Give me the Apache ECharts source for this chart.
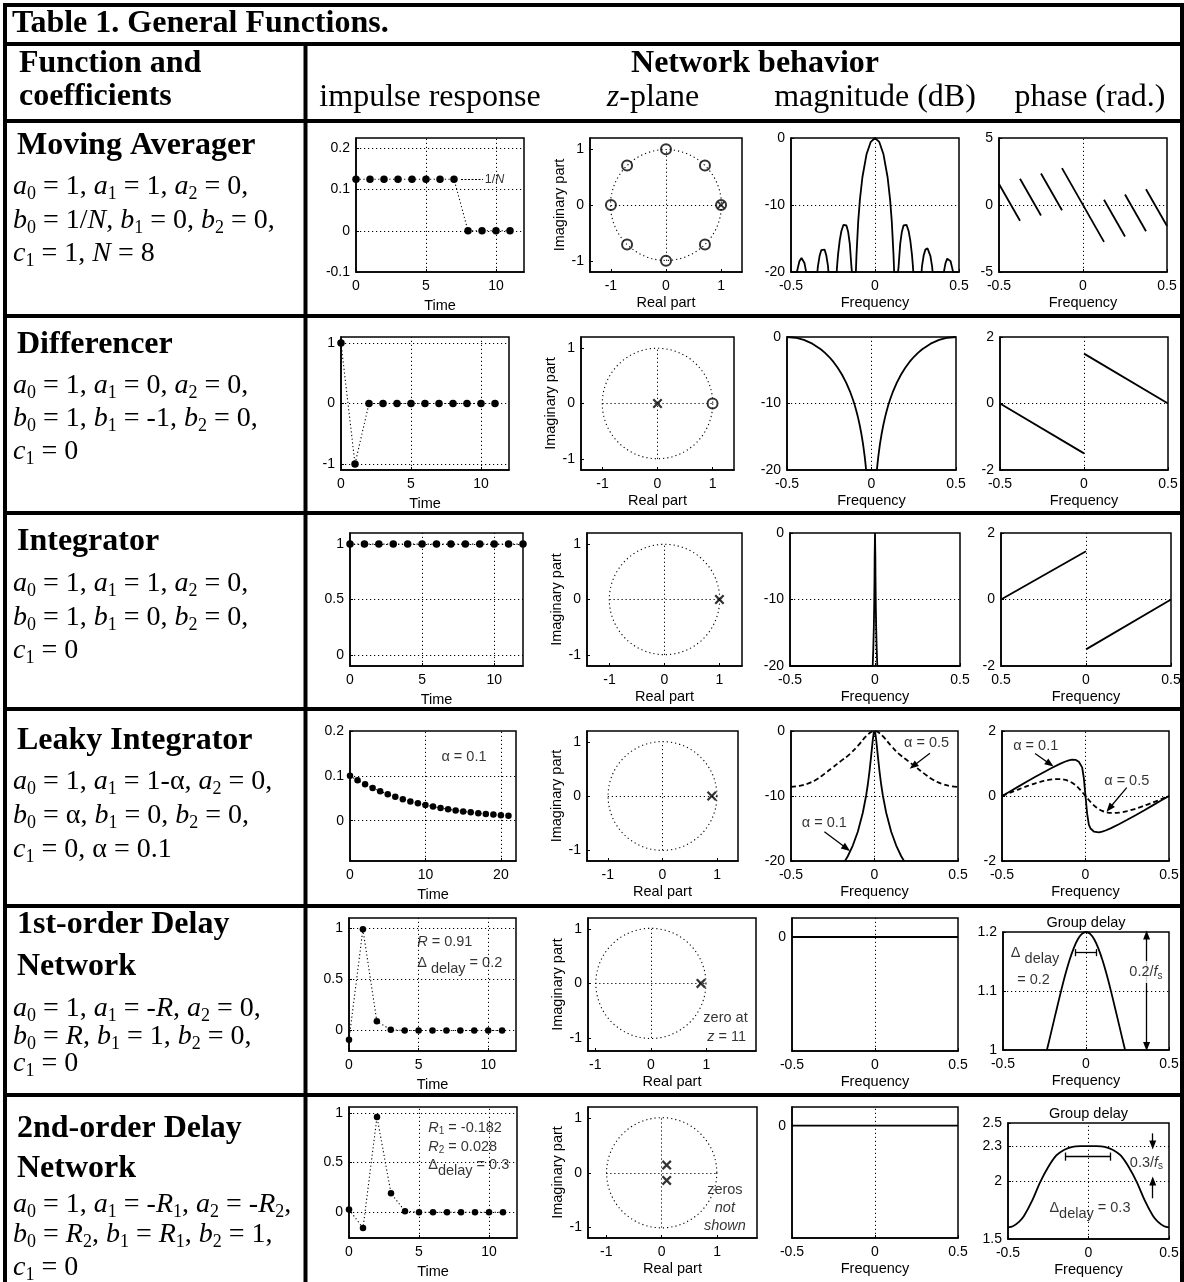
<!DOCTYPE html>
<html><head><meta charset="utf-8">
<script src="https://cdn.jsdelivr.net/npm/echarts@6/dist/echarts.min.js"></script>
<style>html,body{margin:0;padding:0;background:#fff}#c{width:1184px;height:1282px}</style>
</head><body><div id="c"></div>
<script>
// ================= DATA =================
// Row 1: Moving averager
const maTime=[0,1,2,3,4,5,6,7,8,9,10,11];
const maImpulse=[0.125,0.125,0.125,0.125,0.125,0.125,0.125,0.125,0,0,0,0];
const maZeroRe=[0.707,0,-0.707,-1,-0.707,0,0.707,1];
const maZeroIm=[0.707,1,0.707,0,-0.707,-1,-0.707,0];
const maPoleRe=[1];
const maPoleIm=[0];
const maMagFreq=[-0.5,-0.465,-0.46,-0.45,-0.4375,-0.43,-0.42,-0.41,-0.343,-0.34,-0.33,-0.32,-0.3125,-0.3,-0.29,-0.28,-0.277,-0.228,-0.225,-0.22,-0.21,-0.2,-0.1875,-0.17,-0.16,-0.15,-0.14,-0.137,-0.114,-0.11,-0.1,-0.09,-0.075,-0.05,-0.025,0,
 0.025,0.05,0.075,0.09,0.1,0.11,0.114,0.137,0.14,0.15,0.16,0.17,0.1875,0.2,0.21,0.22,0.225,0.228,0.277,0.28,0.29,0.3,0.3125,0.32,0.33,0.34,0.343,0.41,0.42,0.43,0.4375,0.45,0.46,0.465,0.5];
const maMagDb=[-20,-20,-19.46,-18.39,-17.9,-18.0,-18.65,-19.97,-20,-19.2,-17.63,-16.75,-16.46,-16.66,-17.5,-19.1,-20,-20,-18.9,-17.4,-15.28,-13.88,-12.96,-13.06,-13.98,-15.8,-19.3,-20,-20,-17.34,-12.48,-9.24,-5.86,-2.38,-0.57,0,
 -0.57,-2.38,-5.86,-9.24,-12.48,-17.34,-20,-20,-19.3,-15.8,-13.98,-13.06,-12.96,-13.88,-15.28,-17.4,-18.9,-20,-20,-19.1,-17.5,-16.66,-16.46,-16.75,-17.63,-19.2,-20,-19.97,-18.65,-18.0,-17.9,-18.39,-19.46,-20,-20];
const maPhaseSeg=[[-0.5,1.571,-0.375,-1.178],[-0.375,1.963,-0.25,-0.785],[-0.25,2.356,-0.125,-0.393],[-0.125,2.749,0.125,-2.749],[0.125,0.393,0.25,-2.356],[0.25,0.785,0.375,-1.963],[0.375,1.178,0.5,-1.571]];

// Row 2: Differencer
const dfTime=[0,1,2,3,4,5,6,7,8,9,10,11];
const dfImpulse=[1,-1,0,0,0,0,0,0,0,0,0,0];
const dfZeroRe=[1], dfZeroIm=[0];
const dfPoleRe=[0], dfPoleIm=[0];
const dfMagFreq=[-0.5,-0.45,-0.4,-0.35,-0.3,-0.275,-0.25,-0.225,-0.2,-0.175,-0.15,-0.125,-0.11,-0.1,-0.09,-0.08,-0.07,-0.06,-0.05,-0.04,-0.035,-0.032,0,
 0.032,0.035,0.04,0.05,0.06,0.07,0.08,0.09,0.1,0.11,0.125,0.15,0.175,0.2,0.225,0.25,0.275,0.3,0.35,0.4,0.45,0.5];
const dfMagDb=[0,-0.11,-0.44,-1.0,-1.84,-2.38,-3.01,-3.75,-4.62,-5.64,-6.86,-8.34,-9.4,-10.2,-11.09,-12.09,-13.23,-14.55,-16.11,-18.04,-19.2,-20,-20,
 -20,-19.2,-18.04,-16.11,-14.55,-13.23,-12.09,-11.09,-10.2,-9.4,-8.34,-6.86,-5.64,-4.62,-3.75,-3.01,-2.38,-1.84,-1.0,-0.44,-0.11,0];
const dfPhaseSeg=[[-0.5,0,0,-1.5],[0,1.5,0.5,0]];

// Row 3: Integrator
const inTime=[0,1,2,3,4,5,6,7,8,9,10,11,12];
const inImpulse=[1,1,1,1,1,1,1,1,1,1,1,1,1];
const inPoleRe=[1], inPoleIm=[0];
const inMagFreq=[-0.5,-0.0135,-0.01,-0.007,-0.005,-0.003,-0.002,0,0.002,0.003,0.005,0.007,0.01,0.0135,0.5];
const inMagDb=[-20,-20,-17.4,-14.3,-11.4,-6.9,-3.4,0,-3.4,-6.9,-11.4,-14.3,-17.4,-20,-20];
const inPhaseSeg=[[-0.5,0,0,1.45],[0,-1.5,0.5,0]];

// Row 4: Leaky integrator
const liTime=[0,1,2,3,4,5,6,7,8,9,10,11,12,13,14,15,16,17,18,19,20,21];
const liImpulse=[0.1,0.09,0.081,0.0729,0.0656,0.059,0.0531,0.0478,0.043,0.0387,0.0349,0.0314,0.0282,0.0254,0.0229,0.0206,0.0185,0.0167,0.015,0.0135,0.0122,0.0109];
const liPoleRe=[0.9], liPoleIm=[0];
const liMag01Freq=[-0.177,-0.16,-0.13,-0.1,-0.07,-0.05,-0.04,-0.03,-0.02,-0.015,-0.01,-0.005,0,0.005,0.01,0.015,0.02,0.03,0.04,0.05,0.07,0.1,0.13,0.16,0.177];
const liMag01Db=[-20,-19.27,-17.62,-15.49,-12.58,-9.92,-8.23,-6.22,-3.84,-2.55,-1.32,-0.37,0,-0.37,-1.32,-2.55,-3.84,-6.22,-8.23,-9.92,-12.58,-15.49,-17.62,-19.27,-20];
const liMag05Freq=[-0.5,-0.45,-0.4,-0.35,-0.3,-0.25,-0.2,-0.15,-0.1,-0.05,-0.02,0,0.02,0.05,0.1,0.15,0.2,0.25,0.3,0.35,0.4,0.45,0.5];
const liMag05Db=[-8.6,-8.45,-8.1,-7.5,-6.6,-5.6,-4.6,-3.6,-2.3,-0.8,-0.15,0,-0.15,-0.8,-2.3,-3.6,-4.6,-5.6,-6.6,-7.5,-8.1,-8.45,-8.6];
const liPhFreq=[-0.5,-0.45,-0.4,-0.35,-0.3,-0.25,-0.2,-0.15,-0.12,-0.1,-0.08,-0.06,-0.05,-0.04,-0.03,-0.02,-0.01,0,0.01,0.02,0.03,0.04,0.05,0.06,0.08,0.1,0.12,0.15,0.2,0.25,0.3,0.35,0.4,0.45,0.5];
const liPh01=[0,0.149,0.297,0.445,0.59,0.733,0.87,0.997,1.062,1.096,1.117,1.113,1.093,1.052,1.0,0.88,0.55,0,-0.55,-0.88,-1.0,-1.052,-1.093,-1.113,-1.117,-1.096,-1.062,-0.997,-0.87,-0.733,-0.59,-0.445,-0.297,-0.149,0];
const liPh05=[0,0.104,0.206,0.303,0.391,0.464,0.512,0.52,0.494,0.458,0.406,0.331,0.287,0.237,0.182,0.124,0.063,0,-0.063,-0.124,-0.182,-0.237,-0.287,-0.331,-0.406,-0.458,-0.494,-0.52,-0.512,-0.464,-0.391,-0.303,-0.206,-0.104,0];

// Row 5: 1st-order delay network
const d1Time=[0,1,2,3,4,5,6,7,8,9,10,11];
const d1Impulse=[-0.09,0.99,0.09,0.008,0,0,0,0,0,0,0,0];
const d1PoleRe=[0.9], d1PoleIm=[0];
const d1MagFreq=[-0.5,0.5], d1MagDb=[0,0];
const d1GdFreq=[-0.2355,-0.22,-0.2,-0.175,-0.15,-0.125,-0.1,-0.075,-0.05,-0.025,0,0.025,0.05,0.075,0.1,0.125,0.15,0.175,0.2,0.22,0.2355];
const d1Gd=[1.0,1.018,1.0417,1.0713,1.1002,1.1274,1.1516,1.1719,1.1872,1.1968,1.2,1.1968,1.1872,1.1719,1.1516,1.1274,1.1002,1.0713,1.0417,1.018,1.0];

// Row 6: 2nd-order delay network
const d2Time=[0,1,2,3,4,5,6,7,8,9,10,11];
const d2Impulse=[0.028,-0.16,0.96,0.19,0.01,0,0,0,0,0,0,0];
const d2PoleRe=[0.09,0.09], d2PoleIm=[0.14,-0.14];
const d2MagFreq=[-0.5,0.5], d2MagDb=[0,0];
const d2GdFreq=[-0.5,-0.47,-0.43,-0.4,-0.35,-0.3,-0.25,-0.2,-0.15,-0.1,-0.05,0,0.05,0.1,0.15,0.2,0.25,0.3,0.35,0.4,0.43,0.47,0.5];
const d2Gd=[1.6,1.61,1.65,1.7,1.83,1.99,2.12,2.22,2.27,2.295,2.3,2.3,2.3,2.295,2.27,2.22,2.12,1.99,1.83,1.7,1.65,1.61,1.6];

// Tick values
const tkTime5=[0,5,10], tkTime10=[0,10,20];
const tkImp1=[-0.1,0,0.1,0.2], tkImp2=[-1,0,1], tkImp3=[0,0.5,1], tkImp4=[0,0.1,0.2];
const tkUnit=[-1,0,1];
const tkFreq=[-0.5,0,0.5];
const tkMag=[-20,-10,0], tkMag0=[0];
const tkPh5=[-5,0,5], tkPh2=[-2,0,2];
const tkGd1=[1,1.1,1.2], tkGd2=[1.5,2,2.3,2.5];

// ================= LAYOUT / STYLE =================
const SANS='Liberation Sans, Arial, Helvetica, sans-serif';
const SERIF='Liberation Serif, Times New Roman, serif';
const ZPX=[[-1,0,1,0],[0,-1,0,1]];
const CH=[
 {box:[356,138,524,272],xr:[0,12],yr:[-0.1,0.225],xt:tkTime5,yt:tkImp1,gx:[5,10],gy:[0,0.1,0.2],xn:'Time',xg:26},
 {box:[590,138,742,272],xr:[-1.38,1.38],yr:[-1.2,1.2],xt:tkUnit,yt:tkUnit,seg:ZPX,xn:'Real part',xg:23,yn:'Imaginary part',yg:20},
 {box:[791,138,959,272],xr:[-0.5,0.5],yr:[-20,0],xt:tkFreq,yt:tkMag,gx:[0],gy:[-10],xn:'Frequency',xg:23},
 {box:[999,138,1167,272],xr:[-0.5,0.5],yr:[-5,5],xt:tkFreq,yt:tkPh5,gx:[0],gy:[0],xn:'Frequency',xg:23},

 {box:[341,337,509,470],xr:[0,12],yr:[-1.1,1.1],xt:tkTime5,yt:tkImp2,gx:[5,10],gy:[-1,0,1],xn:'Time',xg:26},
 {box:[581,337,734,470],xr:[-1.39,1.39],yr:[-1.2,1.2],xt:tkUnit,yt:tkUnit,seg:ZPX,xn:'Real part',xg:23,yn:'Imaginary part',yg:23},
 {box:[787,337,956,470],xr:[-0.5,0.5],yr:[-20,0],xt:tkFreq,yt:tkMag,gx:[0],gy:[-10],xn:'Frequency',xg:23},
 {box:[1000,337,1168,470],xr:[-0.5,0.5],yr:[-2,2],xt:tkFreq,yt:tkPh2,gx:[0],gy:[0],xn:'Frequency',xg:23},

 {box:[350,533,523,666],xr:[0,12],yr:[-0.1,1.1],xt:tkTime5,yt:tkImp3,gx:[5,10],gy:[0,0.5,1],xn:'Time',xg:26},
 {box:[587,533,742,666],xr:[-1.41,1.41],yr:[-1.2,1.2],xt:tkUnit,yt:tkUnit,seg:ZPX,xn:'Real part',xg:23,yn:'Imaginary part',yg:23},
 {box:[790,533,960,666],xr:[-0.5,0.5],yr:[-20,0],xt:tkFreq,yt:tkMag,gx:[0],gy:[-10],xn:'Frequency',xg:23},
 {box:[1001,533,1171,666],xr:[-0.5,0.5],yr:[-2,2],xt:tkFreq,yt:tkPh2,gx:[0],gy:[0],xn:'Frequency',xg:23,absX:true},

 {box:[350,731,516,861],xr:[0,22],yr:[-0.09,0.2],xt:tkTime10,yt:tkImp4,gx:[10,20],gy:[0,0.1],xn:'Time',xg:26},
 {box:[587,731,738,861],xr:[-1.38,1.38],yr:[-1.2,1.2],xt:tkUnit,yt:tkUnit,seg:ZPX,xn:'Real part',xg:23,yn:'Imaginary part',yg:23},
 {box:[791,731,958,861],xr:[-0.5,0.5],yr:[-20,0],xt:tkFreq,yt:tkMag,gx:[0],gy:[-10],xn:'Frequency',xg:23},
 {box:[1002,731,1169,861],xr:[-0.5,0.5],yr:[-2,2],xt:tkFreq,yt:tkPh2,gx:[0],gy:[0],xn:'Frequency',xg:23},

 {box:[349,918,516,1051],xr:[0,12],yr:[-0.2,1.1],xt:tkTime5,yt:tkImp3,gx:[5,10],gy:[0,0.5,1],xn:'Time',xg:26},
 {box:[588,918,756,1051],xr:[-1.13,1.89],yr:[-1.24,1.2],xt:tkUnit,yt:tkUnit,seg:ZPX,xn:'Real part',xg:23,yn:'Imaginary part',yg:23},
 {box:[792,918,958,1051],xr:[-0.5,0.5],yr:[-6,1],xt:tkFreq,yt:tkMag0,gx:[0],gy:[],xn:'Frequency',xg:23},
 {box:[1003,932,1169,1050],xr:[-0.5,0.5],yr:[1,1.2],xt:tkFreq,yt:tkGd1,gx:[0],gy:[1.1],xn:'Frequency',xg:23,title:'Group delay'},

 {box:[349,1107,517,1238],xr:[0,12],yr:[-0.26,1.06],xt:tkTime5,yt:tkImp3,gx:[5,10],gy:[0,0.5,1],xn:'Time',xg:26},
 {box:[588,1107,757,1238],xr:[-1.33,1.72],yr:[-1.19,1.2],xt:tkUnit,yt:tkUnit,seg:ZPX,xn:'Real part',xg:23,yn:'Imaginary part',yg:23},
 {box:[792,1107,958,1238],xr:[-0.5,0.5],yr:[-6,1],xt:tkFreq,yt:tkMag0,gx:[0],gy:[],xn:'Frequency',xg:23},
 {box:[1008,1123,1169,1239],xr:[-0.5,0.5],yr:[1.5,2.5],xt:tkFreq,yt:tkGd2,gx:[0],gy:[2,2.3],xn:'Frequency',xg:23,title:'Group delay'}
];

// data series per chart
const SER=[
 {c:0,k:'imp',t:maTime,v:maImpulse},
 {c:1,k:'circle'},{c:1,k:'zero',re:maZeroRe,im:maZeroIm},{c:1,k:'pole',re:maPoleRe,im:maPoleIm,size:8},
 {c:2,k:'curve',f:maMagFreq,v:maMagDb},
 {c:3,k:'segs',s:maPhaseSeg},

 {c:4,k:'imp',t:dfTime,v:dfImpulse},
 {c:5,k:'circle'},{c:5,k:'zero',re:dfZeroRe,im:dfZeroIm},{c:5,k:'pole',re:dfPoleRe,im:dfPoleIm},
 {c:6,k:'curve',f:dfMagFreq,v:dfMagDb},
 {c:7,k:'segs',s:dfPhaseSeg},

 {c:8,k:'imp',t:inTime,v:inImpulse},
 {c:9,k:'circle'},{c:9,k:'pole',re:inPoleRe,im:inPoleIm},
 {c:10,k:'curve',f:inMagFreq,v:inMagDb},
 {c:11,k:'segs',s:inPhaseSeg},

 {c:12,k:'imp',t:liTime,v:liImpulse,size:6.5},
 {c:13,k:'circle'},{c:13,k:'pole',re:liPoleRe,im:liPoleIm},
 {c:14,k:'curve',f:liMag05Freq,v:liMag05Db,dash:true,smooth:0.4},
 {c:14,k:'curve',f:liMag01Freq,v:liMag01Db},
 {c:15,k:'curve',f:liPhFreq,v:liPh05,dash:true,smooth:0.3},
 {c:15,k:'curve',f:liPhFreq,v:liPh01},

 {c:16,k:'imp',t:d1Time,v:d1Impulse,size:6.5},
 {c:17,k:'circle'},{c:17,k:'pole',re:d1PoleRe,im:d1PoleIm},
 {c:18,k:'curve',f:d1MagFreq,v:d1MagDb},
 {c:19,k:'curve',f:d1GdFreq,v:d1Gd,smooth:0.3},

 {c:20,k:'imp',t:d2Time,v:d2Impulse,size:6.5},
 {c:21,k:'circle'},{c:21,k:'pole',re:d2PoleRe,im:d2PoleIm},
 {c:22,k:'curve',f:d2MagFreq,v:d2MagDb},
 {c:23,k:'curve',f:d2GdFreq,v:d2Gd,smooth:0.3}
];

// annotations: [chart, x, y, richText, align, whiteBg]
const ANN=[
 [0,9.2,0.125,'{t|1/}{ti|N}','left'],
 [12,15.1,0.143,'{n|α = 0.1}','center'],
 [14,0.312,-1.9,'{n|α = 0.5}','center'],
 [14,-0.3,-14.2,'{n|α = 0.1}','center'],
 [15,-0.298,1.55,'{n|α = 0.1}','center'],
 [15,0.247,0.462,'{n|α = 0.5}','center'],
 [16,4.9,0.865,'{i|R}{n| = 0.91}','left'],
 [16,4.9,0.66,'{D|Δ}{d| delay}{D| = 0.2}','left'],
 [17,1.74,-0.64,'{n|zero at}','right'],
 [17,1.71,-0.98,'{i|z}{n| = 11}','right'],
 [19,-0.307,1.164,'{D|Δ}{d| delay}','center'],
 [19,-0.316,1.119,'{n|= 0.2}','center'],
 [19,0.361,1.132,'{n|0.2/}{i|f}{s|s}','center',true],
 [20,5.66,0.851,'{i|R}{s|1}{n| = -0.182}','left'],
 [20,5.66,0.66,'{i|R}{s|2}{n| = 0.028}','left'],
 [20,5.66,0.475,'{D|Δ}{e|delay}{D| = 0.3}','left'],
 [21,1.14,-0.31,'{n|zeros}','center'],
 [21,1.14,-0.65,'{i|not}','center'],
 [21,1.14,-0.97,'{i|shown}','center'],
 [23,0.36,2.158,'{n|0.3/}{i|f}{s|s}','center'],
 [23,0.009,1.765,'{D|Δ}{e|delay}{D| = 0.3}','center']
];
// lines/arrows: [chart, x1,y1,x2,y2, kind]  kind: a=arrow at end, aa=both ends, l=line, d=dashed
const ARR=[
 [0,7.5,0.125,9.07,0.125,'d'],
 [14,0.332,-3.43,0.232,-5.38,'a'],
 [14,-0.3,-15.5,-0.168,-18.05,'a'],
 [15,-0.302,1.31,-0.213,0.985,'a'],
 [15,0.247,0.256,0.143,-0.378,'a'],
 [19,0.365,1.006,0.365,1.195,'aa'],
 [19,-0.066,1.165,0.064,1.165,'l'],
 [19,-0.066,1.159,-0.066,1.171,'l'],
 [19,0.064,1.159,0.064,1.171,'l'],
 [23,0.399,2.411,0.399,2.31,'a'],
 [23,0.399,1.851,0.399,2.0,'a'],
 [23,-0.145,2.21,0.135,2.21,'l'],
 [23,-0.145,2.175,-0.145,2.245,'l'],
 [23,0.135,2.175,0.135,2.245,'l']
];

// left-column & header texts: [x, baseline, rich, align]
const TXT=[
 [12,35,'{b|Table 1. General Functions.}'],
 [19,75,'{b|Function and}'],
 [19,108,'{b|coefficients}'],
 [755,75,'{b|Network behavior}','center'],
 [430,108,'{r|impulse response}','center'],
 [653,108,'{ri|z}{r|-plane}','center'],
 [875,108,'{r|magnitude (dB)}','center'],
 [1090,108,'{r|phase (rad.)}','center'],
 [17,157,'{b|Moving Averager}'],
 [13,196,'{i|a}{s|0}{n| = 1, }{i|a}{s|1}{n| = 1, }{i|a}{s|2}{n| = 0,}'],
 [13,230,'{i|b}{s|0}{n| = 1/}{i|N}{n|, }{i|b}{s|1}{n| = 0, }{i|b}{s|2}{n| = 0,}'],
 [13,263,'{i|c}{s|1}{n| = 1, }{i|N}{n| = 8}'],
 [17,356,'{b|Differencer}'],
 [13,395,'{i|a}{s|0}{n| = 1, }{i|a}{s|1}{n| = 0, }{i|a}{s|2}{n| = 0,}'],
 [13,428,'{i|b}{s|0}{n| = 1, }{i|b}{s|1}{n| = -1, }{i|b}{s|2}{n| = 0,}'],
 [13,461,'{i|c}{s|1}{n| = 0}'],
 [17,553,'{b|Integrator}'],
 [13,593,'{i|a}{s|0}{n| = 1, }{i|a}{s|1}{n| = 1, }{i|a}{s|2}{n| = 0,}'],
 [13,627,'{i|b}{s|0}{n| = 1, }{i|b}{s|1}{n| = 0, }{i|b}{s|2}{n| = 0,}'],
 [13,660,'{i|c}{s|1}{n| = 0}'],
 [17,752,'{b|Leaky Integrator}'],
 [13,791,'{i|a}{s|0}{n| = 1, }{i|a}{s|1}{n| = 1-α, }{i|a}{s|2}{n| = 0,}'],
 [13,825,'{i|b}{s|0}{n| = α, }{i|b}{s|1}{n| = 0, }{i|b}{s|2}{n| = 0,}'],
 [13,859,'{i|c}{s|1}{n| = 0, α = 0.1}'],
 [17,936,'{b|1st-order Delay}'],
 [17,978,'{b|Network}'],
 [13,1018,'{i|a}{s|0}{n| = 1, }{i|a}{s|1}{n| = -}{i|R}{n|, }{i|a}{s|2}{n| = 0,}'],
 [13,1046,'{i|b}{s|0}{n| = }{i|R}{n|, }{i|b}{s|1}{n| = 1, }{i|b}{s|2}{n| = 0,}'],
 [13,1073,'{i|c}{s|1}{n| = 0}'],
 [17,1140,'{b|2nd-order Delay}'],
 [17,1180,'{b|Network}'],
 [13,1214,'{i|a}{s|0}{n| = 1, }{i|a}{s|1}{n| = -}{i|R}{s|1}{n|, }{i|a}{s|2}{n| = -}{i|R}{s|2}{n|,}'],
 [13,1244,'{i|b}{s|0}{n| = }{i|R}{s|2}{n|, }{i|b}{s|1}{n| = }{i|R}{s|1}{n|, }{i|b}{s|2}{n| = 1,}'],
 [13,1277,'{i|c}{s|1}{n| = 0}']
];
// table rules: [x, y, w, h]
const RULES=[[3,3,1181,4],[3,3,4,1279],[1180,3,4,1279],[3,42,1181,4],[3,119,1181,4],[303.5,42,4,1240],
 [3,314,1181,4],[3,511,1181,4],[3,707,1181,4],[3,904,1181,4],[3,1093,1181,4]];

// ================= BUILD =================
function zip(a,b){return a.map((v,i)=>[v,b[i]]);}
const XPATH='path://M1.6,0L5,3.4L8.4,0L10,1.6L6.6,5L10,8.4L8.4,10L5,6.6L1.6,10L0,8.4L3.4,5L0,1.6Z';
const RICH_L={
 b:{fontFamily:SERIF,fontSize:32,fontWeight:'bold',lineHeight:40,fill:'#000'},
 r:{fontFamily:SERIF,fontSize:32,lineHeight:40,fill:'#000'},
 ri:{fontFamily:SERIF,fontSize:32,fontStyle:'italic',lineHeight:40,fill:'#000'},
 n:{fontFamily:SERIF,fontSize:28,lineHeight:34,fill:'#000'},
 i:{fontFamily:SERIF,fontSize:28,fontStyle:'italic',lineHeight:34,fill:'#000'},
 s:{fontFamily:SERIF,fontSize:18,lineHeight:20,verticalAlign:'bottom',fill:'#000'}
};
const RICH_A={
 n:{fontFamily:SANS,fontSize:14.5,color:'#000',lineHeight:18},
 i:{fontFamily:SANS,fontSize:14.5,fontStyle:'italic',color:'#000',lineHeight:18},
 t:{fontFamily:SANS,fontSize:12.5,color:'#000',lineHeight:16},
 ti:{fontFamily:SANS,fontSize:12.5,fontStyle:'italic',color:'#000',lineHeight:16},
 s:{fontFamily:SANS,fontSize:10,color:'#000',lineHeight:10,verticalAlign:'bottom'},
 D:{fontFamily:SANS,fontSize:14.5,color:'#000',lineHeight:26},
 d:{fontFamily:SANS,fontSize:14.5,color:'#000',lineHeight:14,verticalAlign:'bottom'},
 e:{fontFamily:SANS,fontSize:14.5,color:'#000',lineHeight:20,verticalAlign:'bottom'}
};
const fmt=v=>String(v);
const option={animation:false,backgroundColor:'#fff',textStyle:{fontFamily:SANS},grid:[],xAxis:[],yAxis:[],series:[],graphic:[]};

CH.forEach((c,i)=>{
 const [l,t,r,b]=c.box;
 option.grid.push({left:l,top:t,width:r-l,height:b-t,show:true,borderColor:'#000',borderWidth:1.5,backgroundColor:'rgba(0,0,0,0)',containLabel:false,outerBoundsMode:'none'});
 const nameStyle={color:'#000',fontSize:14.5,fontFamily:SANS};
 option.xAxis.push({gridIndex:i,type:'value',min:c.xr[0],max:c.xr[1],position:'bottom',
  axisLine:{show:true,onZero:false,lineStyle:{color:'#000',width:1.5}},
  axisTick:{show:true,inside:true,length:3,customValues:c.xt,lineStyle:{color:'#000'}},
  axisLabel:{show:true,customValues:c.xt,color:'#000',fontSize:14,fontFamily:SANS,margin:7,
   formatter:c.absX?(v=>String(Math.abs(v))):fmt},
  splitLine:{show:false},name:c.xn,nameLocation:'middle',nameGap:c.xg,nameTextStyle:nameStyle});
 option.yAxis.push({gridIndex:i,type:'value',min:c.yr[0],max:c.yr[1],position:'left',
  axisLine:{show:true,onZero:false,lineStyle:{color:'#000',width:1.5}},
  axisTick:{show:true,inside:true,length:3,customValues:c.yt,lineStyle:{color:'#000'}},
  axisLabel:{show:true,customValues:c.yt,color:'#000',fontSize:14,fontFamily:SANS,margin:6,formatter:fmt},
  splitLine:{show:false},name:c.yn||'',nameLocation:'middle',nameGap:c.yg||20,nameTextStyle:nameStyle});
 // dotted grid lines
 const d=[];
 (c.gx||[]).forEach(v=>d.push({xAxis:v}));
 (c.gy||[]).forEach(v=>d.push({yAxis:v}));
 (c.seg||[]).forEach(s=>d.push([{coord:[s[0],s[1]]},{coord:[s[2],s[3]]}]));
 option.series.push({type:'line',xAxisIndex:i,yAxisIndex:i,data:[[c.xr[0],c.yr[0]]],symbol:'none',
  lineStyle:{opacity:0},silent:true,z:1,
  markLine:{silent:true,symbol:['none','none'],label:{show:false},emphasis:{disabled:true},
   lineStyle:{color:'#000',width:1,type:[1.2,2.8]},data:d}});
 if(c.title){
  option.graphic.push({type:'text',x:(l+r)/2,y:t-9,silent:true,
   style:{text:c.title,fontFamily:SANS,fontSize:14.5,fill:'#000',align:'center',verticalAlign:'middle'}});
 }
});

SER.forEach(s=>{
 const base={xAxisIndex:s.c,yAxisIndex:s.c,silent:true,z:3};
 if(s.k==='imp'){
  option.series.push(Object.assign({type:'line',data:zip(s.t,s.v),symbol:'circle',symbolSize:s.size||7.5,showSymbol:true,
   itemStyle:{color:'#000'},lineStyle:{color:'#000',width:1.1,type:[1.2,2.5]},clip:false},base));
 } else if(s.k==='curve'){
  option.series.push(Object.assign({type:'line',data:zip(s.f,s.v),symbol:'none',showSymbol:false,smooth:s.smooth||false,
   lineStyle:{color:'#000',width:1.8,type:s.dash?[5,3]:'solid'},clip:true},base));
 } else if(s.k==='segs'){
  s.s.forEach(g=>{
   option.series.push(Object.assign({type:'line',data:[[g[0],g[1]],[g[2],g[3]]],symbol:'none',showSymbol:false,
    lineStyle:{color:'#000',width:1.8},clip:true},base));
  });
 } else if(s.k==='circle'){
  option.series.push(Object.assign({type:'custom',data:[[0,0,1]],clip:false,
   renderItem:(p,api)=>{const ctr=api.coord([api.value(0),api.value(1)]);const sz=api.size([1,1]);
    const rr=api.value(2)*(sz[0]+sz[1])/2;
    return {type:'circle',shape:{cx:ctr[0],cy:ctr[1],r:rr},style:{fill:'none',stroke:'#000',lineWidth:1.1,lineDash:[1.2,3]}};}},base));
 } else if(s.k==='zero'){
  option.series.push(Object.assign({type:'scatter',data:zip(s.re,s.im),symbol:'circle',symbolSize:10,
   itemStyle:{color:'rgba(255,255,255,0)',borderColor:'#000',borderWidth:2},clip:false},base));
 } else if(s.k==='pole'){
  option.series.push(Object.assign({type:'scatter',data:zip(s.re,s.im),symbol:XPATH,symbolSize:s.size||10,
   itemStyle:{color:'#000'},clip:false},base));
 }
});

ANN.forEach(a=>{
 option.series.push({type:'scatter',xAxisIndex:a[0],yAxisIndex:a[0],data:[[a[1],a[2]]],symbolSize:0,silent:true,z:6,clip:false,
  label:{show:true,position:'inside',align:a[4]||'center',verticalAlign:'middle',formatter:a[3],rich:RICH_A,
   color:'#000',fontFamily:SANS,fontSize:14.5,backgroundColor:a[5]?'#fff':'transparent',padding:a[5]?[2,2]:0}});
});

ARR.forEach(a=>{
 const k=a[5];
 const s0=(k==='aa')?'triangle':'none';
 const s1=(k==='a'||k==='aa')?'triangle':'none';
 option.series.push({type:'line',xAxisIndex:a[0],yAxisIndex:a[0],data:[[CH[a[0]].xr[0],CH[a[0]].yr[0]]],symbol:'none',
  lineStyle:{opacity:0},silent:true,z:5,
  markLine:{silent:true,symbol:['none','none'],label:{show:false},emphasis:{disabled:true},
   lineStyle:{color:'#000',width:k==='d'?1:1.3,type:k==='d'?[2,1.5]:'solid'},
   data:[[{coord:[a[1],a[2]],symbol:s0,symbolSize:[7,9]},{coord:[a[3],a[4]],symbol:s1,symbolSize:[7,9]}]]}});
});

RULES.forEach(r=>option.graphic.push({type:'rect',silent:true,shape:{x:r[0],y:r[1],width:r[2],height:r[3]},style:{fill:'#000'}}));
TXT.forEach(t=>{
 const big=t[2].indexOf('{b|')===0||t[2].indexOf('{r|')===0||t[2].indexOf('{ri|')===0;
 const size=big?32:28;
 option.graphic.push({type:'text',silent:true,x:t[0],y:t[1]-0.3375*size,
  style:{text:t[2],rich:RICH_L,align:t[3]||'left',verticalAlign:'middle'}});
});

const chart=echarts.init(document.getElementById('c'),null,{renderer:'canvas',width:1184,height:1282});
chart.setOption(option);
</script></body></html>
